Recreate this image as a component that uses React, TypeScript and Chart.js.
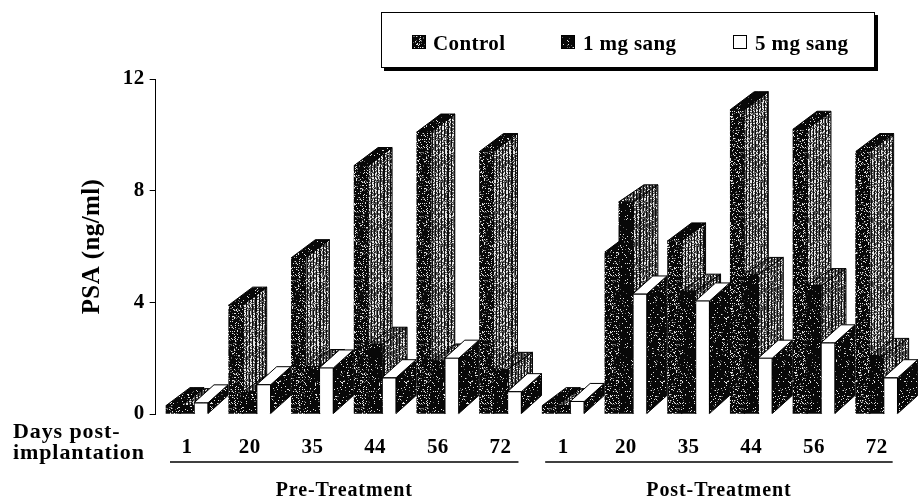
import React, { useEffect, useRef } from "react";
import { Chart, registerables } from "chart.js";

Chart.register(...registerables);

const dayLabels = ["1", "20", "35", "44", "56", "72", "1", "20", "35", "44", "56", "72"];
const controlValues = [0.3, 3.9, 5.6, 8.9, 10.1, 9.4, 0.3, 5.8, 6.2, 10.9, 10.2, 9.4];
const oneMgValues = [0.3, 0.8, 1.7, 2.5, 1.9, 1.6, 0.3, 7.6, 4.4, 5.0, 4.6, 2.1];
const fiveMgValues = [0.4, 1.05, 1.65, 1.3, 2.0, 0.8, 0.45, 4.3, 4.05, 2.0, 2.55, 1.3];
const yTicks = [0, 4, 8, 12];
const seriesNames = ["Control", "1 mg sang", "5 mg sang"];
const phaseNames = ["Pre-Treatment", "Post-Treatment"];

const FONT = '"Liberation Serif", "Times New Roman", serif';

function tile(paint: (x: number, y: number, r: number) => number) {
  const size = 64;
  const c = document.createElement("canvas");
  c.width = size;
  c.height = size;
  const g = c.getContext("2d")!;
  const img = g.createImageData(size, size);
  let s = 12345;
  for (let y = 0; y < size; y++) {
    for (let x = 0; x < size; x++) {
      s = (s * 1103515245 + 12345) & 0x7fffffff;
      const v = paint(x, y, (s >> 8) / 0x7fffff);
      const i = (y * size + x) * 4;
      img.data[i] = img.data[i + 1] = img.data[i + 2] = v;
      img.data[i + 3] = 255;
    }
  }
  g.putImageData(img, 0, 0);
  return c;
}

function makePatterns(ctx: CanvasRenderingContext2D) {
  const speckle = (d: number) =>
    ctx.createPattern(tile((_x, _y, r) => (r < d ? 225 : r < d * 1.6 ? 100 : 8)), "repeat")!;
  const hatch = (d: number) =>
    ctx.createPattern(
      tile((x, _y, r) => {
        const m = x % 3;
        if (m === 0) return r < 0.1 ? 130 : 10;
        if (m === 1) return r < d ? 225 : 60;
        return r < d * 0.7 ? 235 : 95;
      }),
      "repeat"
    )!;
  return {
    controlFront: speckle(0.11),
    oneFront: speckle(0.05),
    whiteSide: speckle(0.06),
    topDark: speckle(0.05),
    controlSide: hatch(0.5),
    oneSide: hatch(0.4),
    oneTop: hatch(0.3),
  };
}

const depth3d = {
  id: "depth3d",
  beforeDatasetsDraw(chart: any, _a: any, opts: any) {
    const { ctx } = chart;
    opts.faces.forEach((f: any, di: number) => {
      const meta = chart.getDatasetMeta(di);
      meta.data.forEach((el: any) => {
        const p = el.getProps(["x", "y", "base", "width"], true);
        const l = p.x - p.width / 2;
        const r = p.x + p.width / 2;
        ctx.save();
        ctx.strokeStyle = "#000";
        ctx.lineWidth = 1;
        ctx.beginPath();
        ctx.moveTo(r, p.base);
        ctx.lineTo(r + f.dx, p.base - f.dy);
        ctx.lineTo(r + f.dx, p.y - f.dy);
        ctx.lineTo(r, p.y);
        ctx.closePath();
        ctx.fillStyle = f.side;
        ctx.fill();
        ctx.stroke();
        ctx.beginPath();
        ctx.moveTo(l, p.y);
        ctx.lineTo(l + f.dx, p.y - f.dy);
        ctx.lineTo(r + f.dx, p.y - f.dy);
        ctx.lineTo(r, p.y);
        ctx.closePath();
        ctx.fillStyle = f.top;
        ctx.fill();
        ctx.stroke();
        ctx.restore();
      });
    });
  },
};

const annotations = {
  id: "annotations",
  beforeDraw(chart: any) {
    chart.ctx.letterSpacing = "0.4px";
  },
  afterDraw(chart: any, _a: any, opts: any) {
    const { ctx, scales } = chart;
    const x = scales.x;
    ctx.save();
    ctx.fillStyle = "#000";
    ctx.strokeStyle = "#000";
    ctx.textBaseline = "alphabetic";

    // legend box
    ctx.fillRect(384, 15, 494, 56);
    ctx.fillStyle = "#fff";
    ctx.fillRect(381, 12, 494, 56);
    ctx.lineWidth = 1;
    ctx.strokeRect(381.5, 12.5, 493, 55);
    ctx.font = `bold 21px ${FONT}`;
    ctx.letterSpacing = "0.4px";
    ctx.textAlign = "left";
    const marks = [412, 561, 733];
    const texts = [433, 583, 755];
    seriesNames.forEach((name, i) => {
      ctx.fillStyle = opts.swatches[i];
      ctx.fillRect(marks[i], 35, 14, 14);
      ctx.strokeStyle = "#000";
      ctx.strokeRect(marks[i] + 0.5, 35.5, 13, 13);
      ctx.fillStyle = "#000";
      ctx.fillText(name, texts[i], 50);
    });

    // row caption
    ctx.font = `bold 22px ${FONT}`;
    ctx.letterSpacing = "0.9px";
    ctx.fillText("Days post-", 13, 438);
    ctx.fillText("implantation", 13, 459);

    // phase rules and names
    ctx.lineWidth = 1.5;
    const spans = [
      [x.getPixelForValue(0) - 17, x.getPixelForValue(5) + 18],
      [x.getPixelForValue(6) - 18, x.getPixelForValue(11) + 16],
    ];
    ctx.font = `bold 20px ${FONT}`;
    ctx.letterSpacing = "0.9px";
    ctx.textAlign = "center";
    spans.forEach(([a, b], i) => {
      ctx.beginPath();
      ctx.moveTo(a, 462);
      ctx.lineTo(b, 462);
      ctx.stroke();
      ctx.fillText(phaseNames[i], (a + b) / 2, 496);
    });
    ctx.restore();
  },
};

export default function App() {
  const ref = useRef<HTMLCanvasElement>(null);

  useEffect(() => {
    const canvas = ref.current!;
    const ctx = canvas.getContext("2d")!;
    const pat = makePatterns(ctx);
    const chart = new Chart(canvas, {
      type: "bar",
      data: {
        labels: dayLabels,
        datasets: [
          { label: seriesNames[0], data: controlValues, backgroundColor: pat.controlFront },
          { label: seriesNames[1], data: oneMgValues, backgroundColor: pat.oneFront },
          {
            label: seriesNames[2],
            data: fiveMgValues,
            backgroundColor: "#ffffff",
            borderColor: "#000000",
            borderWidth: 1,
          },
        ],
      },
      plugins: [depth3d, annotations],
      options: {
        responsive: false,
        animation: false,
        devicePixelRatio: 1,
        layout: { padding: { left: 78, right: 10, top: 79, bottom: 0 } },
        datasets: { bar: { barThickness: 14 } },
        plugins: {
          legend: { display: false },
          tooltip: { enabled: false },
          depth3d: {
            faces: [
              { dx: 24, dy: 18, side: pat.controlSide, top: pat.topDark },
              { dx: 25, dy: 17, side: pat.oneSide, top: pat.oneTop },
              { dx: 20, dy: 18, side: pat.whiteSide, top: "#ffffff" },
            ],
          },
          annotations: {
            swatches: [pat.controlFront, pat.oneFront, "#ffffff"],
          },
        } as any,
        scales: {
          x: {
            grid: { display: false },
            border: { display: false },
            afterFit: (s: any) => {
              s.height = 87;
            },
            ticks: {
              autoSkip: false,
              maxRotation: 0,
              padding: 13,
              color: "#000",
              font: { family: FONT, size: 21, weight: "bold" },
            },
          },
          y: {
            min: 0,
            max: 12,
            afterFit: (s: any) => {
              s.width = 77.65;
            },
            afterBuildTicks: (s: any) => {
              s.ticks = yTicks.map((value) => ({ value }));
            },
            grid: { drawOnChartArea: false, drawTicks: true, tickLength: 6, color: "#000" },
            border: { display: true, color: "#000", width: 1 },
            title: {
              display: true,
              text: "PSA (ng/ml)",
              color: "#000",
              padding: 0,
              font: { family: FONT, size: 25, weight: "bold" },
            },
            ticks: {
              padding: 5,
              color: "#000",
              font: { family: FONT, size: 21, weight: "bold" },
            },
          },
        },
      } as any,
    });
    return () => chart.destroy();
  }, []);

  return (
    <div style={{ position: "absolute", left: 0, top: 0, width: 918, height: 501, background: "#fff" }}>
      <canvas ref={ref} width={918} height={501} style={{ display: "block" }} />
    </div>
  );
}
